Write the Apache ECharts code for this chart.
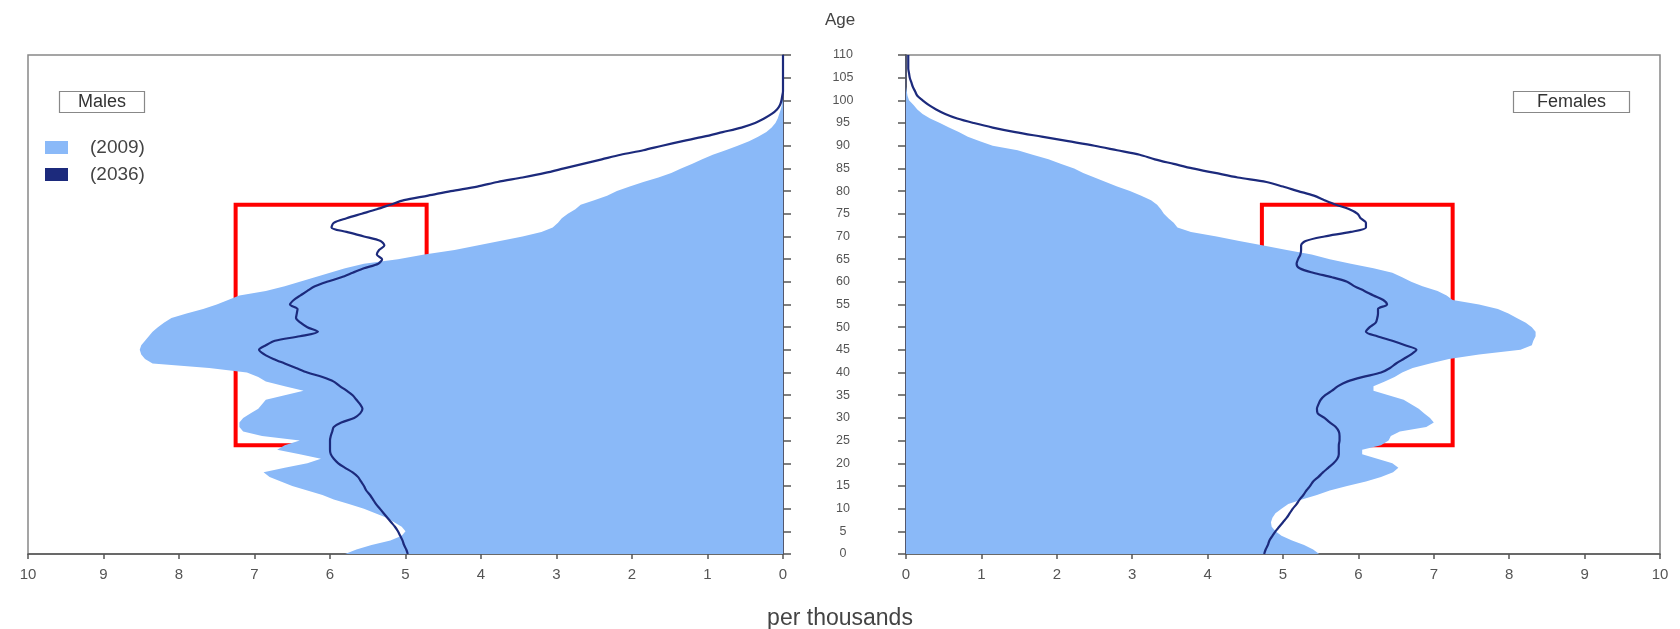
<!DOCTYPE html>
<html>
<head>
<meta charset="utf-8">
<script src="https://cdn.jsdelivr.net/npm/echarts@6/dist/echarts.min.js"></script>
<style>html,body{margin:0;padding:0;background:#fff;}#c{width:1680px;height:629px;}</style>
</head>
<body>
<div id="c"></div>
<script>
// Ages 0..110 (category axis, bottom to top)
const ages = [];
for (let a = 0; a <= 110; a++) ages.push(String(a));

// Males, 2009 (per thousand), ages 0..110
const males2009 = [5.8,5.65,5.45,5.2,5.05,5.0,5.05,5.15,5.25,5.4,
5.55,5.75,5.95,6.1,6.3,6.5,6.65,6.8,6.88,6.6,
6.3,6.12,6.4,6.7,6.6,6.4,6.9,7.15,7.2,7.2,
7.15,7.05,6.95,6.9,6.85,6.6,6.35,6.6,6.85,6.95,
7.1,7.6,8.35,8.45,8.5,8.52,8.5,8.45,8.4,8.35,
8.28,8.2,8.1,7.9,7.68,7.5,7.35,7.2,6.85,6.6,
6.4,6.2,6.0,5.8,5.55,5.1,4.75,4.35,4.05,3.75,
3.45,3.2,3.05,2.98,2.93,2.85,2.75,2.68,2.5,2.33,
2.2,2.03,1.85,1.65,1.48,1.35,1.2,1.07,0.93,0.76,
0.6,0.45,0.33,0.22,0.15,0.1,0.07,0.05,0.03,0.015,
0.01,0,0,0,0,0,0,0,0,0,0];

// Males, 2036
const males2036 = [4.97,4.99,5.02,5.04,5.07,5.1,5.14,5.19,5.24,5.29,
5.34,5.39,5.43,5.47,5.52,5.55,5.59,5.63,5.7,5.8,
5.89,5.95,5.99,6.0,6.0,6.0,5.99,5.97,5.95,5.85,
5.68,5.6,5.57,5.6,5.65,5.7,5.78,5.87,5.95,6.1,
6.3,6.45,6.6,6.75,6.87,6.94,6.85,6.73,6.4,6.16,
6.3,6.39,6.45,6.44,6.43,6.53,6.48,6.39,6.3,6.2,
6.04,5.85,5.7,5.55,5.36,5.31,5.38,5.35,5.28,5.33,
5.55,5.78,5.98,5.95,5.78,5.58,5.38,5.2,5.02,4.7,
4.4,4.05,3.78,3.45,3.15,2.9,2.65,2.4,2.15,1.85,
1.6,1.33,1.05,0.8,0.55,0.37,0.25,0.15,0.08,0.04,
0.02,0.01,0,0,0,0,0,0,0,0,0];

// Females, 2009
const females2009 = [5.48,5.4,5.28,5.12,4.98,4.9,4.85,4.84,4.86,4.9,
4.98,5.07,5.25,5.45,5.62,5.85,6.1,6.3,6.46,6.53,
6.45,6.25,6.05,6.05,6.3,6.4,6.43,6.55,6.9,7.0,
6.95,6.87,6.8,6.7,6.6,6.4,6.2,6.2,6.35,6.48,
6.58,6.72,6.95,7.2,7.6,8.15,8.3,8.32,8.35,8.35,
8.3,8.22,8.1,7.99,7.85,7.6,7.25,7.17,7.05,6.85,
6.7,6.58,6.45,6.2,5.9,5.62,5.38,5.05,4.74,4.42,
4.12,3.78,3.6,3.55,3.48,3.42,3.38,3.33,3.25,3.12,
2.97,2.8,2.65,2.5,2.35,2.23,2.05,1.89,1.68,1.48,
1.15,0.98,0.82,0.7,0.57,0.45,0.32,0.22,0.15,0.1,
0.04,0.02,0.01,0,0,0,0,0,0,0,0];

// Females, 2036
const females2036 = [4.75,4.77,4.8,4.82,4.86,4.9,4.95,5.0,5.05,5.09,
5.13,5.18,5.22,5.27,5.31,5.36,5.4,5.47,5.53,5.6,
5.67,5.72,5.74,5.74,5.74,5.75,5.75,5.74,5.7,5.62,
5.55,5.46,5.45,5.47,5.5,5.56,5.65,5.73,5.85,6.05,
6.3,6.42,6.5,6.6,6.7,6.77,6.62,6.45,6.25,6.1,
6.15,6.23,6.25,6.26,6.26,6.38,6.33,6.2,6.08,5.95,
5.85,5.65,5.4,5.22,5.18,5.2,5.23,5.24,5.24,5.3,
5.55,5.9,6.1,6.1,6.03,5.99,5.88,5.7,5.55,5.41,
5.2,5.0,4.78,4.4,4.1,3.8,3.55,3.3,3.1,2.8,
2.5,2.15,1.8,1.45,1.15,0.9,0.68,0.52,0.4,0.3,
0.22,0.15,0.12,0.09,0.07,0.05,0.04,0.03,0.03,0.03,0.03];

// Highlighted region (value range, age range)
const boxValues = [4.72, 7.25];
const boxAges = ['24', '77'];

const AREA = '#8ab9f8';
const LINE = '#1c2a7c';
const AXIS = '#555';
const TXT = '#555';
const FONT = 'Liberation Sans, Arial, sans-serif';

const chart = echarts.init(document.getElementById('c'), null, {renderer: 'canvas'});

function xAx(gi, inverse) {
  return {
    type: 'value', gridIndex: gi, min: 0, max: 10, interval: 1, inverse: inverse,
    splitLine: {show: false},
    axisLine: {show: true, lineStyle: {color: AXIS, width: 1.5}},
    axisTick: {show: true, inside: false, length: 5, lineStyle: {color: AXIS, width: 1.5}},
    axisLabel: {color: TXT, fontSize: 15, margin: 13, fontFamily: FONT}
  };
}
function yAx(gi, pos, showLabel) {
  return {
    type: 'category', gridIndex: gi, data: ages, boundaryGap: false, position: pos,
    axisLine: {show: true, lineStyle: {color: '#3a3f5c', width: 1.5}},
    axisTick: {show: true, inside: false, interval: 4, length: 8, lineStyle: {color: AXIS, width: 1.5}},
    axisLabel: {show: showLabel, interval: 4, align: 'center', margin: 63, color: TXT, fontSize: 12.5,
      fontFamily: FONT},
    splitLine: {show: false}
  };
}

function markBox() {
  return {
    silent: true,
    itemStyle: {color: 'rgba(0,0,0,0)', borderColor: '#ff0000', borderWidth: 4},
    data: [[{xAxis: boxValues[0], yAxis: boxAges[1]}, {xAxis: boxValues[1], yAxis: boxAges[0]}]]
  };
}

const option = {
  backgroundColor: '#ffffff',
  animation: false,
  textStyle: {fontFamily: FONT},
  title: [
    {text: 'Males', left: 59, top: 91, padding: [2, 19, 2, 19], borderColor: '#888', borderWidth: 1.2,
      textStyle: {fontSize: 18, fontWeight: 'normal', color: '#333'}},
    {text: 'Females', left: 1513, top: 91, padding: [2, 24, 2, 24], borderColor: '#888', borderWidth: 1.2,
      textStyle: {fontSize: 18, fontWeight: 'normal', color: '#333'}}
  ],
  graphic: [
    {type: 'text', left: 'center', top: 12, style: {text: 'Age', fontSize: 17, fill: '#444', fontFamily: FONT},
      x: -4},
    {type: 'text', left: 'center', top: 607, style: {text: 'per thousands', fontSize: 23, fill: '#444', fontFamily: FONT}}
  ],
  legend: {
    orient: 'vertical', left: 40, top: 133, itemWidth: 23, itemHeight: 13, itemGap: 8,
    data: [{name: '(2009)', icon: 'rect'}, {name: '(2036)', icon: 'rect'}],
    textStyle: {fontSize: 19, color: '#444', padding: [0, 0, 0, 17]},
    selectedMode: false
  },
  grid: [
    {left: 28, top: 55, width: 755, height: 499, show: true, borderColor: '#888', borderWidth: 1.5, backgroundColor: 'transparent'},
    {left: 906, top: 55, width: 754, height: 499, show: true, borderColor: '#888', borderWidth: 1.5, backgroundColor: 'transparent'}
  ],
  xAxis: [xAx(0, true), xAx(1, false)],
  yAxis: [yAx(0, 'right', false), yAx(1, 'left', true)],
  series: [
    {name: '(2009)', type: 'line', xAxisIndex: 0, yAxisIndex: 0, data: males2009, symbol: 'none',
      itemStyle: {color: AREA}, lineStyle: {width: 0, color: AREA}, areaStyle: {color: AREA, opacity: 1}, z: 1},
    {name: '(2036)', type: 'line', xAxisIndex: 0, yAxisIndex: 0, data: males2036, symbol: 'none', smooth: 0.3,
      itemStyle: {color: LINE}, lineStyle: {width: 2.2, color: LINE}, z: 3, markArea: markBox()},
    {name: '(2009)', type: 'line', xAxisIndex: 1, yAxisIndex: 1, data: females2009, symbol: 'none',
      itemStyle: {color: AREA}, lineStyle: {width: 0, color: AREA}, areaStyle: {color: AREA, opacity: 1}, z: 1},
    {name: '(2036)', type: 'line', xAxisIndex: 1, yAxisIndex: 1, data: females2036, symbol: 'none', smooth: 0.3,
      itemStyle: {color: LINE}, lineStyle: {width: 2.2, color: LINE}, z: 3, markArea: markBox()}
  ]
};
chart.setOption(option);
</script>
</body>
</html>
